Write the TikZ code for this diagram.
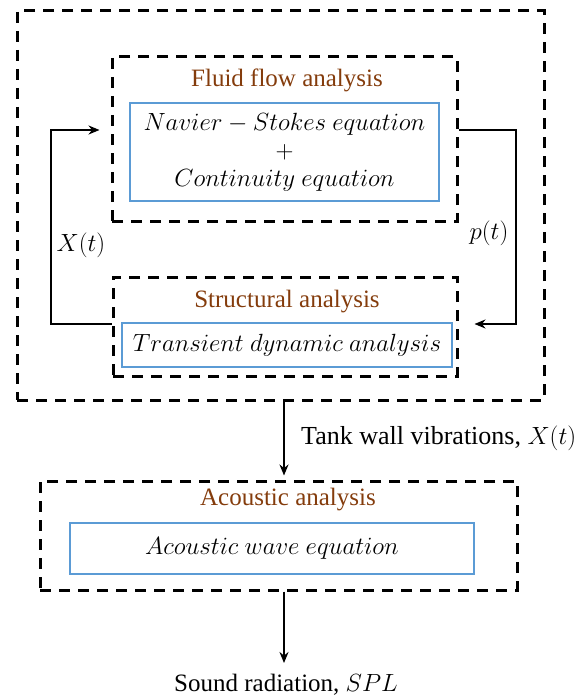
\documentclass[tikz,border=0pt]{standalone}
\usepackage{fontspec}
\setmainfont{Liberation Serif}
\usetikzlibrary{arrows.meta}
\definecolor{titlebrown}{RGB}{132,60,12}
\definecolor{eqblue}{RGB}{91,155,213}
\begin{document}
\begin{tikzpicture}[x=1pt,y=-1pt,
  group/.style={draw=black, line width=3pt, dash pattern=on 11pt off 8pt, inner sep=0pt},
  eqbox/.style={draw=eqblue, line width=2.6pt, inner sep=0pt, align=center,
    font=\fontsize{25}{30}\selectfont},
  title/.style={text=titlebrown, inner sep=0pt, font=\fontsize{25}{30}\selectfont},
  flow/.style={line width=2.6pt, -{Stealth[length=11pt,width=9pt]}},
  lbl/.style={inner sep=0pt, font=\fontsize{25}{30}\selectfont}]
\useasboundingbox (0,0) rectangle (584,698);

% group frames
\node[group, minimum width=527pt, minimum height=389pt] (outer) at (280.5,205.5) {};
\node[group, minimum width=345pt, minimum height=164pt] (fluid) at (284.5,139) {};
\node[group, minimum width=344pt, minimum height=99pt] (struct) at (285,326.5) {};
\node[group, minimum width=477pt, minimum height=109pt] (acou) at (278.5,535.5) {};

% titles
\node[title] (tfluid) at (287,80) {Fluid flow analysis};
\node[title] (tstruct) at (287,302) {Structural analysis};
\node[title] (tacou) at (288,500) {Acoustic analysis};

% equation boxes
\node[eqbox, minimum width=309pt, minimum height=98pt] (efluid) at (284.5,152)
  {$Navier - Stokes\ equation$\\[-2pt] $+$\\[-2pt] $Continuity\ equation$};
\node[eqbox, minimum width=330pt, minimum height=44pt] (estruct) at (287,345)
  {$Transient\ dynamic\ analysis$};
\node[eqbox, minimum width=404pt, minimum height=51pt] (eacou) at (272,548.5)
  {$Acoustic\ wave\ equation$};

% routing points
\coordinate (mid) at (284,0);
\coordinate (lrail) at (51,130);
\coordinate (rrail) at (516,324);

% coupling loop
\draw[flow] (struct.west |- rrail) -| (lrail) -- ([xshift=-11pt]fluid.west |- lrail);
\draw[flow] (fluid.east |- lrail) -| (rrail) -- ([xshift=16pt]struct.east |- rrail);
\node[lbl] (xt) at (81,245) {$X(t)$};
\node[lbl] (pt) at (489,233) {$p(t)$};

% downstream chain
\draw[flow] (outer.south -| mid) -- ([yshift=4pt]acou.north -| mid);
\node[lbl, anchor=west, font=\fontsize{26}{30}\selectfont] (twv) at (301,438)
  {Tank wall vibrations, $X(t)$};
\coordinate (out) at (284,663);
\draw[flow] (acou.south -| mid) -- (out);
\node[lbl] (snd) at (286,685) {Sound radiation, $SPL$};
\end{tikzpicture}
\end{document}
